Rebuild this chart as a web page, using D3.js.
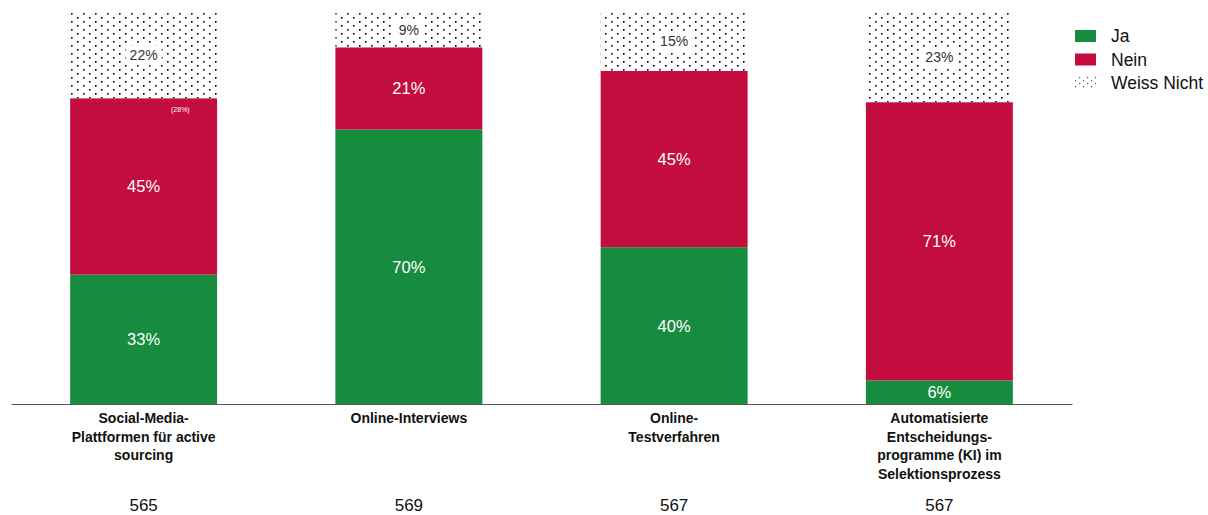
<!DOCTYPE html>
<html><head><meta charset="utf-8">
<script src="https://cdn.jsdelivr.net/npm/d3@7"></script>
<style>body{margin:0;background:#fff}svg{display:block;font-family:"Liberation Sans",Arial,sans-serif}</style>
</head><body><svg id="c" width="1208" height="515"></svg>
<script>
const categories = [
  ["Social-Media-","Plattformen für active","sourcing"],
  ["Online-Interviews"],
  ["Online-","Testverfahren"],
  ["Automatisierte","Entscheidungs-","programme (KI) im","Selektionsprozess"]
];
const sampleSizes = [565, 569, 567, 567];
const seriesNames = ["Ja", "Nein", "Weiss Nicht"];
const ja = [33, 70, 40, 6];
const nein = [45, 21, 45, 71];
const weissNicht = [22, 9, 15, 23];
const yTicks = [0, 100];

const colors = {"Ja":"#168c3e","Nein":"#c30d3e","Weiss Nicht":"url(#dots)"};
const svg = d3.select("#c");
const defs = svg.append("defs");
const pat = defs.append("pattern").attr("id","dots").attr("patternUnits","userSpaceOnUse")
  .attr("width",12).attr("height",8).attr("x",71).attr("y",13);
pat.append("rect").attr("width",12).attr("height",8).attr("fill","#fff");
pat.append("rect").attr("x",0).attr("y",0).attr("width",1.6).attr("height",1.6).attr("fill","#000");
pat.append("rect").attr("x",6).attr("y",4).attr("width",1.6).attr("height",1.6).attr("fill","#000");

const idx = d3.range(categories.length);
const x = d3.scaleBand().domain(idx).range([11,1072]).paddingInner(0.446).paddingOuter(0.223);
const y = d3.scaleLinear().domain([yTicks[0], yTicks[1]]).range([404,12]);

const rows = idx.map(i => ({i, "Ja":ja[i], "Nein":nein[i], "Weiss Nicht":weissNicht[i]}));
const stacked = d3.stack().keys(seriesNames)(rows);

stacked.forEach(s => {
  const g = svg.append("g");
  g.selectAll("rect").data(s).join("rect")
    .attr("x", d => x(d.data.i)).attr("width", x.bandwidth())
    .attr("y", d => y(d[1])).attr("height", d => y(d[0]) - y(d[1]))
    .attr("fill", colors[s.key]);
});

stacked.forEach(s => {
  s.forEach(d => {
    const cx = x(d.data.i) + x.bandwidth()/2;
    const cy = (y(d[0]) + y(d[1]))/2;
    const v = d[1]-d[0];
    const t = svg.append("text").attr("x",cx).attr("y",cy).attr("dy","0.36em")
      .attr("text-anchor","middle").attr("font-size", s.key==="Weiss Nicht" ? 14 : 16.5)
      .attr("fill", s.key==="Weiss Nicht" ? "#333" : "#fff").text(v + "%");
    if (s.key === "Weiss Nicht") {
      const bb = t.node().getBBox();
      svg.insert("rect", () => t.node()).attr("x",bb.x-4).attr("y",bb.y-2)
        .attr("width",bb.width+8).attr("height",bb.height+4).attr("fill","#fff");
    }
  });
});

// small annotation in first Nein segment
svg.append("text").attr("x", x(0)+x.bandwidth()*0.75).attr("y", y(ja[0]+nein[0]) + 14)
  .attr("text-anchor","middle").attr("font-size",7).attr("fill","#fff").text("(28%)");

// baseline axis
const xAxis = d3.axisBottom(x).tickSize(0).tickFormat("");
const ax = svg.append("g").attr("transform",`translate(0,${y(0)})`).call(xAxis);
ax.select(".domain").attr("stroke","#555").attr("stroke-width",1.2);

// category labels
idx.forEach(i => {
  const t = svg.append("text").attr("x", x(i)+x.bandwidth()/2).attr("y",423)
    .attr("text-anchor","middle").attr("font-size",14).attr("font-weight","bold").attr("fill","#111");
  categories[i].forEach((line,k) => t.append("tspan").attr("x", x(i)+x.bandwidth()/2).attr("dy", k?18.5:0).text(line));
  svg.append("text").attr("x", x(i)+x.bandwidth()/2).attr("y",511)
    .attr("text-anchor","middle").attr("font-size",17).attr("fill","#111").text(sampleSizes[i]);
});

// legend
const lg = svg.append("g").attr("transform","translate(1075,30)");
seriesNames.forEach((n,k) => {
  lg.append("rect").attr("x",0).attr("y",k*23.5).attr("width",21).attr("height",12)
    .attr("fill", n==="Weiss Nicht" ? "url(#dotsL)" : colors[n]);
  lg.append("text").attr("x",36).attr("y",k*23.5+12).attr("font-size",17.5).attr("fill","#111").text(n);
});
const patL = defs.append("pattern").attr("id","dotsL").attr("patternUnits","userSpaceOnUse")
  .attr("width",8).attr("height",6).attr("x",1076).attr("y",77);
patL.append("rect").attr("width",8).attr("height",6).attr("fill","#fff");
patL.append("rect").attr("x",0).attr("y",0).attr("width",1.2).attr("height",1.2).attr("fill","#555");
patL.append("rect").attr("x",4).attr("y",3).attr("width",1.2).attr("height",1.2).attr("fill","#555");
</script></body></html>
